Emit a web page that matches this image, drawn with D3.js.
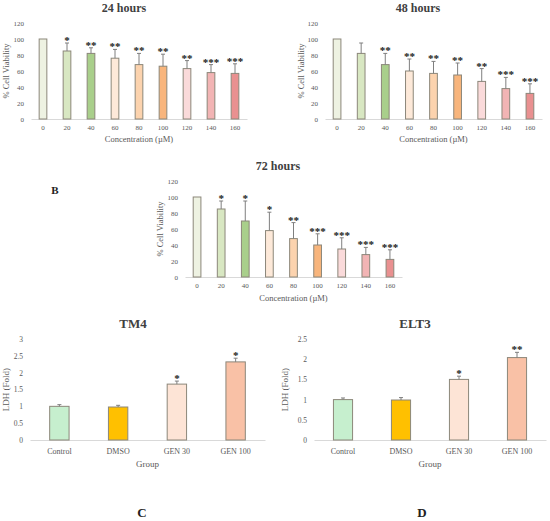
<!DOCTYPE html>
<html>
<head>
<meta charset="utf-8">
<script src="https://cdn.jsdelivr.net/npm/d3@7"></script>
<style>
  body { margin: 0; background: #fff; }
  svg { font-family: "Liberation Serif", "DejaVu Serif", serif; }
  .tick text { fill: #595959; }
</style>
</head>
<body>
<svg id="fig" width="550" height="521"></svg>
<script>
// concentrations (uM) for the viability panels
var concentrations = ["0", "20", "40", "60", "80", "100", "120", "140", "160"];

var viability24 = [100, 85, 82, 76, 68, 66, 63, 58, 57];
var error24     = [0, 10, 7, 11, 14, 15, 10, 10, 12];
var stars24     = ["", "*", "**", "**", "**", "**", "**", "***", "***"];

var viability48 = [100, 82, 68, 60, 57, 55, 47, 38, 32];
var error48     = [0, 13, 14, 15, 15, 15, 16, 14, 12];
var stars48     = ["", "", "**", "**", "**", "**", "**", "***", "***"];

var viability72 = [100, 85, 70, 58, 48, 40, 35, 28, 22];
var error72     = [0, 10, 25, 23, 20, 14, 14, 9, 12];
var stars72     = ["", "*", "*", "*", "**", "***", "***", "***", "***"];

var viabilityTicks = [0, 20, 40, 60, 80, 100, 120];

// LDH release panels
var groups = ["Control", "DMSO", "GEN 30", "GEN 100"];

var ldhTM4      = [1.0, 0.98, 1.66, 2.32];
var ldhTM4Err   = [0.05, 0.05, 0.09, 0.11];
var ldhTM4Stars = ["", "", "*", "*"];
var ldhTM4Ticks = [0, 0.5, 1, 1.5, 2, 2.5, 3];

var ldhELT3      = [1.0, 0.99, 1.5, 2.04];
var ldhELT3Err   = [0.04, 0.06, 0.08, 0.13];
var ldhELT3Stars = ["", "", "*", "**"];
var ldhELT3Ticks = [0, 0.5, 1, 1.5, 2, 2.5];

var concColors = ["#eef2e2", "#d8e7c2", "#a9cf8b", "#fde9d9", "#fcd3ae",
                  "#f8b57c", "#fadada", "#f2b4b4", "#e99090"];
var groupColors = ["#c6efce", "#ffc000", "#fde4d6", "#f9c1a6"];

var svg = d3.select("#fig");

var zip = function(cats, vals, errs, stars) {
  return cats.map(function(c, i) {
    return { key: c, value: vals[i], err: errs[i], star: stars[i] };
  });
};

var drawPanel = function(p) {
  var g = svg.append("g");

  var x = d3.scaleBand()
    .domain(p.data.map(function(d) { return d.key; }))
    .range([p.left, p.right])
    .paddingInner(p.pad)
    .paddingOuter(p.pad / 2);

  var y = d3.scaleLinear()
    .domain([0, p.ymax])
    .range([p.bottom, p.top]);

  // y ticks (no axis line)
  var yAxis = d3.axisLeft(y).tickValues(p.ticks).tickFormat(d3.format("~g"))
    .tickSize(0).tickPadding(7);
  var ya = g.append("g")
    .attr("transform", "translate(" + p.left + ",0)")
    .call(yAxis)
    .attr("font-family", null);
  ya.select(".domain").remove();
  ya.selectAll("text").style("font-size", p.tickFont + "px");

  // x axis
  var xAxis = d3.axisBottom(x).tickSize(0).tickPadding(p.xPad);
  var xa = g.append("g")
    .attr("transform", "translate(0," + p.bottom + ")")
    .call(xAxis)
    .attr("font-family", null);
  xa.select(".domain").attr("stroke", "#d9d9d9").attr("stroke-width", 1);
  xa.selectAll("text").style("font-size", p.xFont + "px");

  // bars
  g.selectAll("rect.bar")
    .data(p.data)
    .enter().append("rect")
    .attr("class", "bar")
    .attr("x", function(d) { return x(d.key); })
    .attr("y", function(d) { return y(d.value); })
    .attr("width", x.bandwidth())
    .attr("height", function(d) { return p.bottom - y(d.value); })
    .attr("fill", function(d, i) { return p.colors[i]; })
    .attr("stroke", "#8c877a")
    .attr("stroke-width", 1);

  // upper error whiskers
  var withErr = p.data.filter(function(d) { return d.err > 0; });
  var cx = function(d) { return x(d.key) + x.bandwidth() / 2; };
  g.selectAll("line.err")
    .data(withErr)
    .enter().append("line")
    .attr("x1", cx).attr("x2", cx)
    .attr("y1", function(d) { return y(d.value); })
    .attr("y2", function(d) { return y(d.value + d.err); })
    .attr("stroke", "#7f7f7f").attr("stroke-width", 1);
  g.selectAll("line.cap")
    .data(withErr)
    .enter().append("line")
    .attr("x1", function(d) { return cx(d) - 2; })
    .attr("x2", function(d) { return cx(d) + 2; })
    .attr("y1", function(d) { return y(d.value + d.err); })
    .attr("y2", function(d) { return y(d.value + d.err); })
    .attr("stroke", "#7f7f7f").attr("stroke-width", 1);

  // significance stars
  g.selectAll("text.star")
    .data(p.data.filter(function(d) { return d.star; }))
    .enter().append("text")
    .attr("x", cx)
    .attr("y", function(d) { return y(d.value + d.err) + 1; })
    .attr("text-anchor", "middle")
    .style("font-size", "11px")
    .style("font-weight", "bold")
    .attr("fill", "#1a1a1a")
    .text(function(d) { return d.star; });

  // titles
  g.append("text")
    .attr("x", p.titleX).attr("y", p.titleY)
    .attr("text-anchor", "middle")
    .style("font-size", p.titleFont + "px")
    .style("font-weight", "bold")
    .attr("fill", "#404040")
    .text(p.title);

  g.append("text")
    .attr("x", (p.left + p.right) / 2).attr("y", p.xTitleY)
    .attr("text-anchor", "middle")
    .style("font-size", p.axisFont + "px")
    .attr("fill", "#595959")
    .text(p.xTitle);

  g.append("text")
    .attr("transform", "translate(" + p.yTitleX + "," + (p.top + p.bottom) / 2 + ") rotate(-90)")
    .attr("text-anchor", "middle")
    .style("font-size", p.axisFont + "px")
    .attr("fill", "#595959")
    .text(p.yTitle);
};

var viabBase = {
  ymax: 120, ticks: viabilityTicks, pad: 0.68, colors: concColors,
  tickFont: 7, xFont: 7, xPad: 6, axisFont: 8.5, titleFont: 12,
  xTitle: "Concentration (\u00b5M)", yTitle: "% Cell Viability"
};

drawPanel(Object.assign({}, viabBase, {
  data: zip(concentrations, viability24, error24, stars24),
  left: 31, right: 247, top: 23, bottom: 119,
  title: "24 hours", titleX: 124, titleY: 12, xTitleY: 142, yTitleX: 9
}));

drawPanel(Object.assign({}, viabBase, {
  data: zip(concentrations, viability48, error48, stars48),
  left: 325, right: 542, top: 23, bottom: 119,
  title: "48 hours", titleX: 418, titleY: 12, xTitleY: 142, yTitleX: 304
}));

drawPanel(Object.assign({}, viabBase, {
  data: zip(concentrations, viability72, error72, stars72),
  left: 185, right: 402, top: 181, bottom: 277,
  title: "72 hours", titleX: 278, titleY: 170, xTitleY: 301, yTitleX: 163
}));

var ldhBase = {
  pad: 0.67, colors: groupColors, tickFont: 7.5, xFont: 8, xPad: 8,
  axisFont: 9, titleFont: 13, xTitle: "Group", yTitle: "LDH (Fold)"
};

drawPanel(Object.assign({}, ldhBase, {
  data: zip(groups, ldhTM4, ldhTM4Err, ldhTM4Stars),
  ymax: 3, ticks: ldhTM4Ticks,
  left: 30, right: 265, top: 339, bottom: 440,
  title: "TM4", titleX: 133, titleY: 328, xTitleY: 467, yTitleX: 9
}));

drawPanel(Object.assign({}, ldhBase, {
  data: zip(groups, ldhELT3, ldhELT3Err, ldhELT3Stars),
  ymax: 2.5, ticks: ldhELT3Ticks,
  left: 314, right: 546, top: 339, bottom: 440,
  title: "ELT3", titleX: 415, titleY: 328, xTitleY: 467, yTitleX: 288
}));

// panel letters
var letters = [
  { t: "B", x: 55, y: 194, s: 11 },
  { t: "C", x: 142, y: 517, s: 13 },
  { t: "D", x: 422, y: 517, s: 13 }
];
svg.selectAll("text.letter")
  .data(letters)
  .enter().append("text")
  .attr("class", "letter")
  .attr("x", function(d) { return d.x; })
  .attr("y", function(d) { return d.y; })
  .attr("text-anchor", "middle")
  .style("font-size", function(d) { return d.s + "px"; })
  .style("font-weight", "bold")
  .attr("fill", "#222")
  .text(function(d) { return d.t; });
</script>
</body>
</html>
